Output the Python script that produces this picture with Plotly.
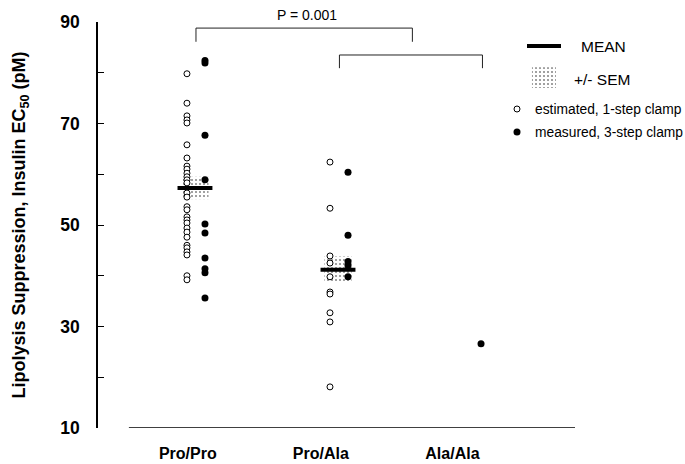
import plotly.graph_objects as go

# ---------------- data ----------------
groups = ["Pro/Pro", "Pro/Ala", "Ala/Ala"]

pro_pro_open = [79.8, 74.0, 71.5, 70.7, 70.1, 65.8, 63.2, 61.6, 61.0, 60.2,
                59.5, 58.9, 58.3, 56.3, 55.5, 53.6, 53.0, 51.6, 51.0, 50.4,
                49.4, 48.6, 47.6, 46.0, 45.5, 44.7, 44.1, 40.0, 39.2]
pro_pro_filled = [82.4, 81.9, 67.7, 58.9, 50.2, 48.4, 43.5, 41.4, 40.6, 35.6]

pro_ala_open = [62.4, 53.3, 43.9, 42.5, 39.8, 36.8, 36.4, 32.7, 30.9, 18.1]
pro_ala_filled = [60.4, 48.0, 42.8, 42.0, 39.8]

ala_ala_filled = [26.6]

mean_groups = [0, 1]
means = [57.3, 41.2]
sems = [2.2, 2.6]

y_ticks = [10, 30, 50, 70, 90]

# ---------------- layout constants ----------------
open_off = -0.056
fill_offs = [0.07, 0.07, 0.0]
BLACK = "black"
FAM = "Liberation Sans, Arial, sans-serif"
STIPPLE = dict(shape=".", fgcolor="#111111", bgcolor="white", size=4, solidity=0.22)

fig = go.Figure()

# SEM bands (stippled)
fig.add_trace(go.Bar(
    x=mean_groups,
    base=[m - s for m, s in zip(means, sems)],
    y=[2 * s for s in sems],
    width=0.19,
    marker=dict(color="white", line=dict(width=0), pattern=STIPPLE),
    hoverinfo="skip", showlegend=False,
))

# legend SEM glyph
fig.add_trace(go.Bar(
    x=[2.44], base=[77.0], y=[4.1], width=0.168,
    marker=dict(color="white", line=dict(width=0), pattern=STIPPLE),
    hoverinfo="skip", showlegend=False,
))

# mean bars
for g, m in zip(mean_groups, means):
    fig.add_trace(go.Scatter(
        x=[g - 0.122, g + 0.122], y=[m, m], mode="lines",
        line=dict(color=BLACK, width=4), hoverinfo="skip", showlegend=False,
    ))

open_sets = [pro_pro_open, pro_ala_open, []]
filled_sets = [pro_pro_filled, pro_ala_filled, ala_ala_filled]

for gi, vals in enumerate(open_sets):
    if not vals:
        continue
    fig.add_trace(go.Scatter(
        x=[gi + open_off] * len(vals), y=vals, mode="markers",
        marker=dict(symbol="circle", size=6, color="white",
                    line=dict(color=BLACK, width=1)),
        showlegend=False,
    ))
for gi, vals in enumerate(filled_sets):
    fig.add_trace(go.Scatter(
        x=[gi + fill_offs[gi]] * len(vals), y=vals, mode="markers",
        marker=dict(symbol="circle", size=7, color=BLACK,
                    line=dict(color=BLACK, width=0)),
        showlegend=False,
    ))

shapes = []
# x axis line (detached from y axis)
shapes.append(dict(type="line", xref="x", yref="y", x0=-0.462, x1=2.657,
                   y0=10, y1=10, line=dict(color=BLACK, width=1.5)))
# brackets
for (xa, xb, ytop, ybot) in [(0.007, 1.52, 88.8, 86.1), (1.01, 2.01, 83.5, 80.9)]:
    shapes.append(dict(type="path", xref="x", yref="y",
                       path=f"M {xa},{ybot} L {xa},{ytop} L {xb},{ytop} L {xb},{ybot}",
                       line=dict(color="#222222", width=1)))

def px(xp):
    return (xp - 98) / 477.0

def py(yp):
    return (428 - yp) / 406.0

# legend: mean line
shapes.append(dict(type="line", xref="paper", yref="paper",
                   x0=px(527), x1=px(561), y0=py(46), y1=py(46),
                   line=dict(color=BLACK, width=4)))
# legend circles
shapes.append(dict(type="circle", xref="paper", yref="paper",
                   xsizemode="pixel", ysizemode="pixel",
                   xanchor=px(517), yanchor=py(109),
                   x0=-3, x1=3, y0=-3, y1=3,
                   line=dict(color=BLACK, width=1), fillcolor="white"))
shapes.append(dict(type="circle", xref="paper", yref="paper",
                   xsizemode="pixel", ysizemode="pixel",
                   xanchor=px(517), yanchor=py(132),
                   x0=-3.5, x1=3.5, y0=-3.5, y1=3.5,
                   line=dict(color=BLACK, width=0), fillcolor=BLACK))

font_reg = dict(family=FAM, size=14, color=BLACK)
annotations = [
    dict(text="P = 0.001", xref="x", yref="paper", x=0.78, y=py(15),
         showarrow=False, font=dict(font_reg, size=14), xanchor="center", yanchor="middle"),
    dict(text="MEAN", xref="paper", yref="paper", x=px(579), y=py(47),
         showarrow=False, font=dict(font_reg, size=15.5), xanchor="left", yanchor="middle"),
    dict(text="+/- SEM", xref="paper", yref="paper", x=px(572), y=py(79),
         showarrow=False, font=dict(font_reg, size=15.5), xanchor="left", yanchor="middle"),
    dict(text="estimated, 1-step clamp", xref="paper", yref="paper", x=px(533), y=py(109),
         showarrow=False, font=dict(font_reg, size=13.8), xanchor="left", yanchor="middle"),
    dict(text="measured, 3-step clamp", xref="paper", yref="paper", x=px(533), y=py(132),
         showarrow=False, font=dict(font_reg, size=13.8), xanchor="left", yanchor="middle"),
]

fig.update_layout(
    width=685, height=464,
    margin=dict(l=98, r=110, t=22, b=36, autoexpand=False),
    paper_bgcolor="white", plot_bgcolor="white",
    barmode="overlay",
    showlegend=False,
    shapes=shapes,
    annotations=annotations,
    font=font_reg,
    xaxis=dict(
        range=[-0.678, 2.657],
        tickvals=[-0.05, 0.88, 1.80],
        ticktext=groups,
        tickfont=dict(family=FAM, size=16, color=BLACK, weight="bold"),
        showline=False, showgrid=False, zeroline=False, ticks="",
        ticklabelstandoff=14, automargin=False,
    ),
    yaxis=dict(
        range=[10, 90],
        tickvals=y_ticks,
        tickfont=dict(family=FAM, size=17.5, color=BLACK, weight="bold"),
        showline=True, linecolor=BLACK, linewidth=1.5,
        ticks="inside", ticklen=6, tickcolor=BLACK, tickwidth=1,
        minor=dict(dtick=10, tick0=10, ticks="inside", ticklen=6, tickcolor=BLACK),
        showgrid=False, zeroline=False,
        ticklabelstandoff=13, automargin=False,
        title=dict(text="Lipolysis Suppression, Insulin EC<sub>50</sub> (pM)",
                   font=dict(family=FAM, size=18, color=BLACK, weight="bold"),
                   standoff=30),
    ),
)

fig.write_html("out.html")
